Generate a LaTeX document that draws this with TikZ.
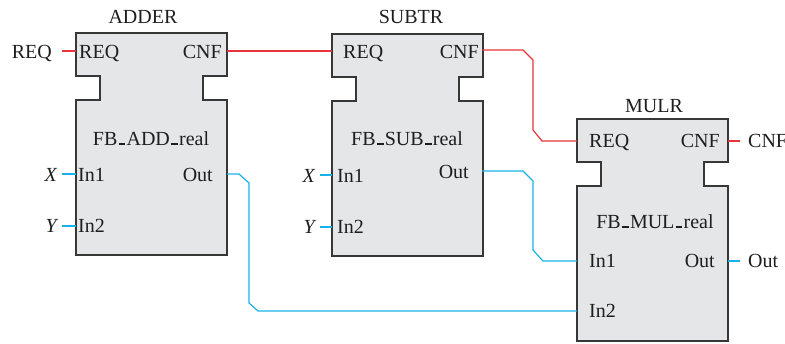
\documentclass[tikz,border=0pt]{standalone}
\usepackage{fontspec}
\setmainfont{Liberation Serif}
\definecolor{wred}{RGB}{232,52,58}
\definecolor{wblue}{RGB}{25,178,232}
\definecolor{bfill}{RGB}{229,230,232}
\definecolor{bdraw}{RGB}{55,55,55}
\definecolor{tcol}{RGB}{30,30,30}
\newcommand\ubar{\kern0.06em\rule{0.34em}{0.09em}\kern0.06em}
\tikzset{
  fbshape/.pic={\draw[bdraw,line width=1.4pt,fill=bfill,line join=miter]
    (0,0) -- (151,0) -- (151,43) -- (127,43) -- (127,67) -- (151,67) -- (151,222)
    -- (0,222) -- (0,67) -- (24,67) -- (24,43) -- (0,43) -- cycle;},
  lbl/.style={font=\fontsize{20}{23}\selectfont, inner sep=0pt, text=tcol},
  lw/.style={lbl, anchor=base west},
  le/.style={lbl, anchor=base east},
  lc/.style={lbl, anchor=base},
  redw/.style={wred, line width=1.2pt},
  bluew/.style={wblue, line width=1.2pt},
}
\begin{document}
\begin{tikzpicture}[x=1pt,y=-1pt]
\useasboundingbox (0,0) rectangle (785,343);
\clip (0,0) rectangle (785,343);

% blocks
\pic (adder) at (76,33) {fbshape};
\pic (subtr) at (332,34) {fbshape};
\pic (mulr) at (577,119) {fbshape};

% port coordinates
\coordinate (adder-req) at (76,51);
\coordinate (adder-cnf) at (227,51);
\coordinate (adder-in1) at (76,174);
\coordinate (adder-in2) at (76,226);
\coordinate (adder-out) at (227,174);
\coordinate (subtr-req) at (332,51);
\coordinate (subtr-cnf) at (482,50);
\coordinate (subtr-in1) at (332,175);
\coordinate (subtr-in2) at (332,227);
\coordinate (subtr-out) at (482,171);
\coordinate (mulr-req) at (577,141);
\coordinate (mulr-cnf) at (728,141);
\coordinate (mulr-in1) at (577,261);
\coordinate (mulr-in2) at (577,311);
\coordinate (mulr-out) at (728,261);

% free ends
\coordinate (ereq) at (62,51);
\coordinate (ex1) at (62,174);
\coordinate (ey1) at (62,226);
\coordinate (ex2) at (320,175);
\coordinate (ey2) at (320,227);
\coordinate (ecnf) at (740,141);
\coordinate (eout) at (740,261);

% titles
\node[lc] (t-adder) at (143,23) {ADDER};
\node[lc] (t-subtr) at (411,23) {SUBTR};
\node[lc] (t-mulr) at (654,112) {MULR};

% ADDER labels
\node[lw] (a-req) at (79,58) {REQ};
\node[le] (a-cnf) at (222,58) {CNF};
\node[lc] (a-fb) at (151,145) {FB\ubar ADD\ubar real};
\node[lw] (a-in1) at (78,181) {In1};
\node[lw] (a-in2) at (78,232) {In2};
\node[le] (a-out) at (213,181) {Out};

% SUBTR labels
\node[lw] (s-req) at (343,58) {REQ};
\node[le] (s-cnf) at (479,58) {CNF};
\node[lc] (s-fb) at (407,145) {FB\ubar SUB\ubar real};
\node[lw] (s-in1) at (337,182) {In1};
\node[lw] (s-in2) at (337,233) {In2};
\node[le] (s-out) at (469,178) {Out};

% MULR labels
\node[lw] (m-req) at (589,147) {REQ};
\node[le] (m-cnf) at (720,147) {CNF};
\node[lc] (m-fb) at (655,228) {FB\ubar MUL\ubar real};
\node[lw] (m-in1) at (589,267) {In1};
\node[lw] (m-in2) at (589,317) {In2};
\node[le] (m-out) at (715,267) {Out};

% external labels
\node[le] (x-req) at (52,58) {REQ};
\node[le] (x-x1) at (57,181) {\itshape X};
\node[le] (x-y1) at (57,232) {\itshape Y};
\node[le] (x-x2) at (315,182) {\itshape X};
\node[le] (x-y2) at (315,233) {\itshape Y};
\node[lw] (x-cnf) at (748,147) {CNF};
\node[lw] (x-out) at (748,267) {Out};

% event wires
\draw[redw] (ereq) -- (adder-req);
\draw[redw] (adder-cnf) -- (subtr-req);
\draw[redw] (subtr-cnf) -- ++(41,0) -- ++(10,10) -- ++(0,70) -- ++(9,11) -- (mulr-req);
\draw[redw] (mulr-cnf) -- (ecnf);

% data wires
\draw[bluew] (ex1) -- (adder-in1);
\draw[bluew] (ey1) -- (adder-in2);
\draw[bluew] (ex2) -- (subtr-in1);
\draw[bluew] (ey2) -- (subtr-in2);
\draw[bluew] (adder-out) -- ++(12,0) -- ++(10,9) -- ++(0,120) -- ++(9,8) -- (mulr-in2);
\draw[bluew] (subtr-out) -- ++(41,0) -- ++(10,10) -- ++(0,69) -- ++(10,11) -- (mulr-in1);
\draw[bluew] (mulr-out) -- (eout);
\end{tikzpicture}
\end{document}
